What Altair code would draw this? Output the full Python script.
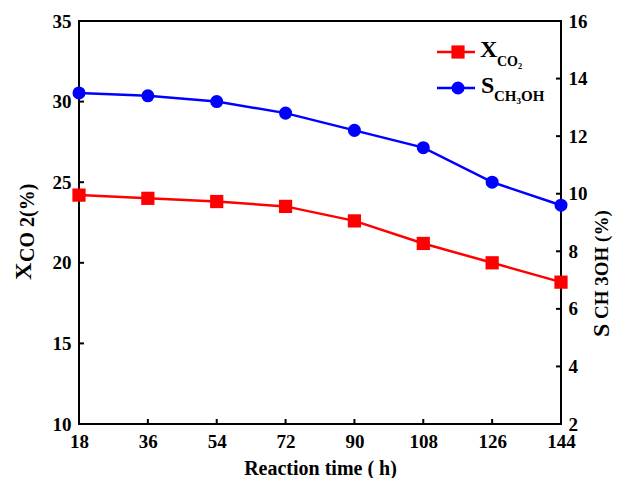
import altair as alt
import pandas as pd

# ---- data ----
time_h = [18, 36, 54, 72, 90, 108, 126, 144]
x_co2 = [24.2, 24.0, 23.8, 23.5, 22.6, 21.2, 20.0, 18.8]
s_ch3oh = [13.5, 13.4, 13.2, 12.8, 12.2, 11.6, 10.4, 9.6]
x_ticks = [18, 36, 54, 72, 90, 108, 126, 144]
left_ticks = [10, 15, 20, 25, 30, 35]
right_ticks = [2, 4, 6, 8, 10, 12, 14, 16]

W, H = 482, 403
FONT = "Liberation Serif"
RED = "#ff0000"
BLUE = "#0000ff"

df = pd.DataFrame({"t": time_h, "x": x_co2, "s": s_ch3oh})
df_xt = pd.DataFrame({"t": x_ticks})
df_lt = pd.DataFrame({"x": left_ticks})
df_rt = pd.DataFrame({"s": right_ticks})

xscale = alt.Scale(domain=[18, 144], nice=False, zero=False)
lscale = alt.Scale(domain=[10, 35], nice=False, zero=False)
rscale = alt.Scale(domain=[2, 16], nice=False, zero=False)

lab = dict(labelFont=FONT, labelFontSize=19, labelFontWeight="bold",
           labelColor="black", ticks=False, domain=False, grid=False,
           labelFlush=False, labelOverlap=False, labelBound=False)

xaxis = alt.Axis(values=x_ticks, title="Reaction time ( h)", labelPadding=8,
                 titleFont=FONT, titleFontSize=20, titleFontWeight="bold",
                 titleColor="black", titlePadding=7, **lab)
laxis = alt.Axis(values=left_ticks, orient="left", title=None, labelPadding=8, **lab)
raxis = alt.Axis(values=right_ticks, orient="right", title=None, labelPadding=7, **lab)

X = alt.X("t:Q", scale=xscale, axis=xaxis)

# left (X_CO2) group
red_line = alt.Chart(df).mark_line(color=RED, strokeWidth=2.5).encode(
    x=X, y=alt.Y("x:Q", scale=lscale, axis=laxis))
red_pts = alt.Chart(df).mark_point(shape="square", filled=True, color=RED,
                                   size=175, opacity=1).encode(
    x=X, y=alt.Y("x:Q", scale=lscale, axis=laxis))
lticks = alt.Chart(df_lt).mark_rule(color="black", strokeWidth=2).encode(
    y=alt.Y("x:Q", scale=lscale, axis=laxis), x=alt.value(0), x2=alt.value(5))
xticks = alt.Chart(df_xt).mark_rule(color="black", strokeWidth=2).encode(
    x=X, y=alt.value(H - 5), y2=alt.value(H))
left = alt.layer(lticks, xticks, red_line, red_pts)

# right (S_CH3OH) group
blue_line = alt.Chart(df).mark_line(color=BLUE, strokeWidth=2.5).encode(
    x=X, y=alt.Y("s:Q", scale=rscale, axis=raxis))
blue_pts = alt.Chart(df).mark_point(shape="circle", filled=True, color=BLUE,
                                    size=170, opacity=1).encode(
    x=X, y=alt.Y("s:Q", scale=rscale, axis=raxis))
rticks = alt.Chart(df_rt).mark_rule(color="black", strokeWidth=2).encode(
    y=alt.Y("s:Q", scale=rscale, axis=raxis), x=alt.value(W - 5), x2=alt.value(W))
right = alt.layer(rticks, blue_line, blue_pts)

one = alt.Data(values=[{"a": 1}])


def txt(text, x, y, size, angle=0):
    kw = dict(text=text, font=FONT, fontSize=size, fontWeight="bold",
              color="black", align="left", baseline="alphabetic")
    if angle:
        kw["angle"] = angle
    return alt.Chart(one).mark_text(**kw).encode(x=alt.value(x), y=alt.value(y))


def seg(color, y):
    return alt.Chart(one).mark_rule(color=color, strokeWidth=2.5).encode(
        x=alt.value(358), x2=alt.value(396), y=alt.value(y))


def sym(color, shape, y, size):
    return alt.Chart(one).mark_point(shape=shape, filled=True, color=color,
                                     size=size, opacity=1).encode(
        x=alt.value(379), y=alt.value(y))


legend = [
    seg(RED, 31), sym(RED, "square", 31, 175),
    txt("X", 401, 36, 24), txt("CO₂", 418, 45, 14),
    seg(BLUE, 67), sym(BLUE, "circle", 67, 170),
    txt("S", 402, 72, 24), txt("CH₃OH", 415, 80, 15),
]

titles = [
    txt("X", -48, 259, 24, angle=270),
    txt("CO 2(%)", -45, 241, 20, angle=270),
    txt("S", 530, 316, 24, angle=270),
    txt("CH 3OH (%)", 529, 298, 19, angle=270),
]

chart = alt.layer(left, right, *legend, *titles).resolve_scale(
    y="independent"
).properties(
    width=W, height=H,
    autosize=alt.AutoSizeParams(type="none"),
    padding={"left": 71, "top": 13, "right": 52, "bottom": 54},
    background="white",
).configure_view(stroke="black", strokeWidth=2)

chart.save("out.html", embed_options={"renderer": "svg", "actions": False})
